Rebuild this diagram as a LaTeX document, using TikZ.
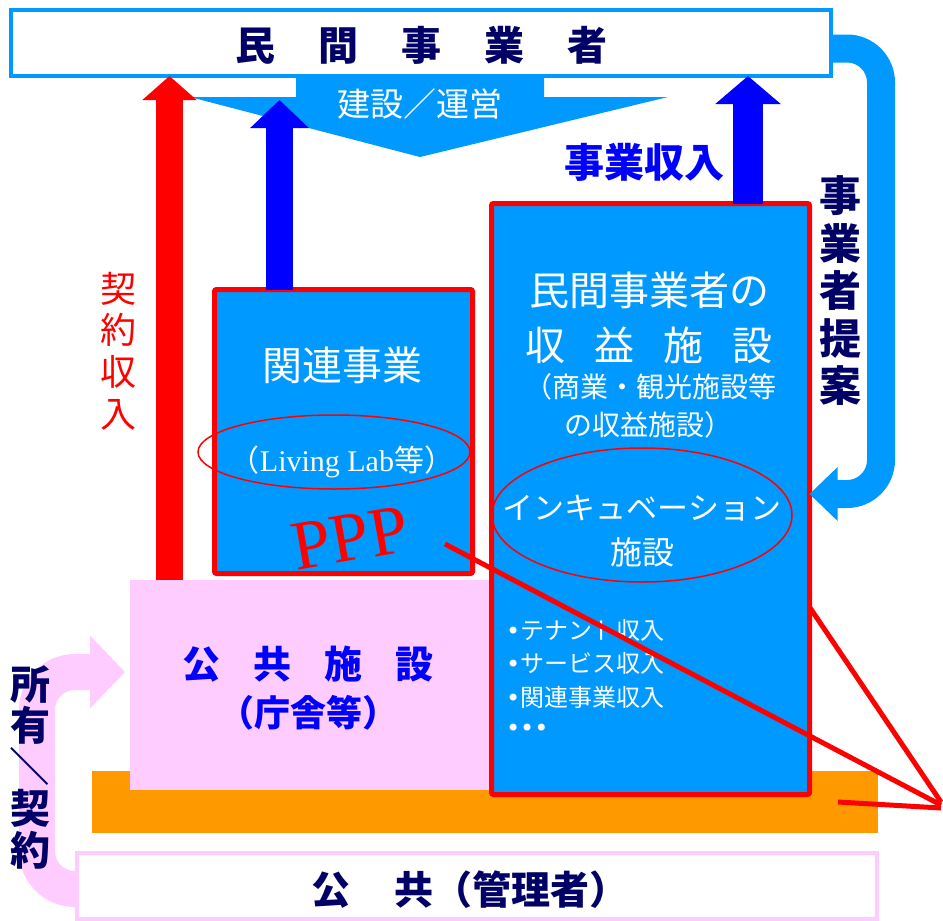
\documentclass[tikz,border=0pt]{standalone}
\usepackage{fontspec}
\usepackage{graphicx}
\usetikzlibrary{arrows.meta,shapes.geometric}
\newfontfamily\jp{Noto Sans CJK JP}
\newfontfamily\lser{Liberation Serif}
\newfontfamily\dv{DejaVu Sans}
\definecolor{lb}{RGB}{0,153,255}
\definecolor{navy}{RGB}{0,0,102}
\definecolor{pk}{RGB}{255,204,255}
\definecolor{org}{RGB}{255,153,0}
\newcommand{\fsz}[2]{\fontsize{#1}{#2}\selectfont}
\begin{document}
\begin{tikzpicture}[x=1pt,y=-1pt,
  every node/.style={inner sep=0pt,outer sep=0pt},
  plainbox/.style={rectangle,draw=none},
  redbox/.style={rectangle,draw=red,line width=5pt,fill=lb,rounded corners=2pt},
  wtxt/.style={text=white,font=\jp\fsz{#1}{#1}},
  ntxt/.style={text=navy,font=\jp\bfseries\fsz{#1}{#1}},
  btxt/.style={text=blue,font=\jp\bfseries\fsz{#1}{#1}},
  thinell/.style={ellipse,draw=red,line width=1.5pt},
  callout/.style={draw=red,line width=5pt},
]
\useasboundingbox (0,0) rectangle (943,921);

% base bars and boxes
\node[plainbox,fill=org,minimum width=786pt,minimum height=62pt] (bar) at (485,802) {};
\node[plainbox,fill=pk,minimum width=365pt,minimum height=210pt] (pub) at (312.5,685) {};
\node[rectangle,draw=pk,line width=4pt,fill=white,minimum width=800pt,minimum height=66pt] (gov) at (477,886) {};

% pink ownership arrow
\coordinate (ownTip) at (125,672);
\draw[pk,line width=36pt,rounded corners=38pt,-{Triangle[width=71pt,length=35pt]}]
  ([yshift=-3pt]gov.west) -- (37,889) -- (37,672) -- (ownTip);

% big construction/operation arrow
\fill[lb] (296,77) -- (544,77) -- (544,97) -- (668,97) -- (420,157) -- (190,97) -- (296,97) -- cycle;

% top box
\node[rectangle,draw=lb,line width=4pt,fill=white,minimum width=820pt,minimum height=66pt] (top) at (421,43) {};

% facility boxes
\node[redbox,minimum width=258pt,minimum height=284pt] (rel) at (343.5,431.5) {};
\node[redbox,minimum width=318pt,minimum height=591pt] (prof) at (650.5,499) {};

% upward arrows
\coordinate (cRed) at (169.5,0);
\coordinate (cBL) at (279.5,0);
\coordinate (blTip) at (279.5,100);
\coordinate (cBR) at (748,0);
\draw[red,line width=27pt,-{Triangle[width=53pt,length=24pt]}] (pub.north -| cRed) -- (top.south -| cRed);
\draw[blue,line width=27pt,-{Triangle[width=57pt,length=28pt]}] (rel.north -| cBL) -- (blTip);
\draw[blue,line width=30pt,-{Triangle[width=64pt,length=28pt]}] (prof.north -| cBR) -- (top.south -| cBR);

% proposal arrow
\coordinate (cProp) at (0,494);
\draw[lb,line width=28pt,rounded corners=34pt,-{Triangle[width=52pt,length=28pt]}]
  ([yshift=-5.5pt]top.east) -- (881,48.5) -- (881,494) -- (prof.east |- cProp);

% ellipses
\node[thinell,minimum width=272pt,minimum height=74pt] (e1) at (334,452) {};
\node[thinell,minimum width=300pt,minimum height=134pt] (e2) at (642,515) {};

% texts
\node[ntxt=40] (tTop) at (421.5,45) {民\hspace{43pt}間\hspace{43pt}事\hspace{43pt}業\hspace{43pt}者};
\node[wtxt=33] (tBuild) at (420,104) {建設／運営};
\node[btxt=40] (tRev) at (644,162) {事業収入};
\node[text=red,font=\jp\fsz{36}{41.7},align=center] (tContract) at (118,351) {契\\約\\収\\入};
\node[ntxt=42,font=\jp\bfseries\fsz{42}{47.5},align=center] (tProp) at (840,291) {事\\業\\者\\提\\案};

\node[wtxt=40] (tRel) at (342,365) {関連事業};
\node[wtxt=30] (tLL) at (342,462) {（{\lser Living Lab}等）};

\node[wtxt=40] (tP1) at (649,290) {民間事業者の};
\node[wtxt=40] (tP2) at (649,345) {収\hspace{29pt}益\hspace{29pt}施\hspace{29pt}設};
\node[wtxt=28] (tP3) at (650,387) {（商業・観光施設等};
\node[wtxt=28] (tP4) at (648,425) {の収益施設）};
\node[wtxt=31] (tInc) at (642,508) {インキュベーション};
\node[wtxt=32] (tInc2) at (642,552) {施設};
\node[wtxt=24,anchor=west] (b1) at (506,630) {{\dv •}テナント収入};
\node[wtxt=24,anchor=west] (b2) at (506,663) {{\dv •}サービス収入};
\node[wtxt=24,anchor=west] (b3) at (506,697) {{\dv •}関連事業収入};
\node[wtxt=24,anchor=west] (b4) at (506,730) {{\dv •••}};

\node[btxt=38] (tPub1) at (308,664) {公\hspace{33pt}共\hspace{33pt}施\hspace{33pt}設};
\node[btxt=36] (tPub2) at (308,713) {（庁舎等）};

\node[ntxt=40,font=\jp\bfseries\fsz{40}{41.5},align=center] (tOwn) at (30,767) {所\\有\\\smash{\rotatebox[origin=c]{-90}{／}}\\契\\約};
\node[ntxt=39,anchor=west] (tGov) at (311,890) {公\hspace{45pt}共（管理者）};

% PPP and callout lines
\node[rotate=10,text=red,font=\lser\fsz{70}{70}] (ppp) at (350,538) {PPP};
\coordinate (cTail) at (445,544);
\coordinate (cTip) at (941,805);
\coordinate (cMid) at (0,607);
\coordinate (cLow) at (838,802);
\draw[callout] (cTail) -- (cTip);
\draw[callout] (prof.east |- cMid) -- (941,802);
\draw[callout] (cLow) -- (941,808);
\end{tikzpicture}
\end{document}
